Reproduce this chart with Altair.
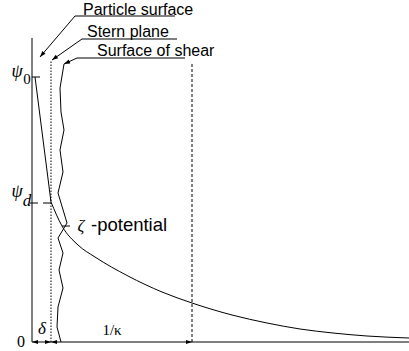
import math
import altair as alt
import pandas as pd

# Potential profile: straight drop across the Stern layer, then diffuse decay
stern_x = [3, 19]
stern_y = [265, 140]
diffuse_x = [19, 30, 46, 63, 96, 130, 160, 200, 235, 268, 301, 335, 377]
diffuse_y = [140, 116, 97, 85, 66, 50, 39, 27, 19, 13, 9, 6, 4]

# Irregular surface of shear
shear_x = [32, 28, 29, 32, 28, 31, 26, 35, 26, 31, 27, 31, 26, 25, 29]
shear_y = [278, 254, 230, 212, 192, 170, 149, 119, 104, 89, 72, 54, 35, 15, 0]

# Characteristic levels and planes
X_MAX, Y_MAX = 377, 304
STERN_PLANE = 19
DEBYE_EDGE = 160
PSI_0 = 265
PSI_D = 139
ZETA = 116

# Callout labels with their leader lines
callout_text = ["Particle surface", "Stern plane", "Surface of shear"]
callout_x = [51, 55, 65]
callout_y = [327, 305, 286]
elbow_x = [43, 50, 45]
elbow_y = [326, 303, 284]
underline_end = [143, 145, 153]
tip_x = [8, 20, 32]
tip_y = [285, 282, 278]

W, H = X_MAX, Y_MAX
xs = alt.Scale(domain=[0, X_MAX], nice=False, zero=False)
ys = alt.Scale(domain=[0, Y_MAX], nice=False, zero=False)


def enc_xy(x="x", y="y"):
    return dict(x=alt.X(f"{x}:Q", scale=xs, axis=None),
                y=alt.Y(f"{y}:Q", scale=ys, axis=None))


# Straight segments
solid = [
    (0, 0, 0, Y_MAX),            # potential axis
    (0, 0, X_MAX, 0),            # distance axis
    (0, PSI_0, 8, PSI_0),        # psi_0 tick
    (30, ZETA, 38, ZETA),        # zeta tick
]
for i in range(3):
    solid.append((elbow_x[i], elbow_y[i], underline_end[i], elbow_y[i]))
    solid.append((elbow_x[i], elbow_y[i], tip_x[i], tip_y[i]))
solid_df = pd.DataFrame(solid, columns=["x", "y", "x2", "y2"])

solid_layer = alt.Chart(solid_df).mark_rule(color="black", strokeWidth=1).encode(
    **enc_xy(), x2="x2:Q", y2="y2:Q")
psid_layer = alt.Chart(pd.DataFrame([(-2, PSI_D, 23, PSI_D)], columns=["x", "y", "x2", "y2"])).mark_rule(
    color="black", strokeWidth=1, strokeDash=[8, 5]).encode(**enc_xy(), x2="x2:Q", y2="y2:Q")
stern_plane_layer = alt.Chart(pd.DataFrame([(STERN_PLANE, 0, STERN_PLANE, 282)],
                                           columns=["x", "y", "x2", "y2"])).mark_rule(
    color="black", strokeWidth=1, strokeDash=[1.5, 1.5]).encode(**enc_xy(), x2="x2:Q", y2="y2:Q")
debye_layer = alt.Chart(pd.DataFrame([(DEBYE_EDGE, 0, DEBYE_EDGE, 280)],
                                     columns=["x", "y", "x2", "y2"])).mark_rule(
    color="black", strokeWidth=1, strokeDash=[3, 2]).encode(**enc_xy(), x2="x2:Q", y2="y2:Q")

# Potential curve
stern_line = alt.Chart(pd.DataFrame({"x": stern_x, "y": stern_y})).mark_line(
    color="black", strokeWidth=1).encode(**enc_xy())
diffuse_line = alt.Chart(pd.DataFrame({"x": diffuse_x, "y": diffuse_y})).mark_line(
    color="black", strokeWidth=1, interpolate="monotone").encode(**enc_xy())
shear_line = alt.Chart(pd.DataFrame({"x": shear_x, "y": shear_y, "o": range(len(shear_x))})).mark_line(
    color="black", strokeWidth=1).encode(**enc_xy(), order="o:O")

# Arrow heads (tip at the data point, rotated along the line direction)
heads = []
for i in range(3):
    dx, dy = tip_x[i] - elbow_x[i], tip_y[i] - elbow_y[i]
    heads.append((tip_x[i], tip_y[i], math.degrees(math.atan2(dx, dy)) % 360))
heads += [(0, 0, 270), (STERN_PLANE, 0, 90), (STERN_PLANE, 0, 270), (DEBYE_EDGE, 0, 90)]
heads_df = pd.DataFrame(heads, columns=["x", "y", "angle"])
head_layer = alt.Chart(heads_df).mark_point(
    shape="M0,0L-0.7,2L0.7,2Z", filled=True, color="black", opacity=1, size=36, strokeWidth=0
).encode(**enc_xy(), angle=alt.Angle("angle:Q", scale=None))


def label(x, y, text, font, size, italic=False, align="center", baseline="middle"):
    return alt.Chart(pd.DataFrame({"x": [x], "y": [y], "t": [text]})).mark_text(
        font=font, fontSize=size, fontStyle="italic" if italic else "normal",
        align=align, baseline=baseline, color="black").encode(**enc_xy(), text="t:N")


SERIF = "Liberation Serif"
SANS = "Liberation Sans"
texts = [
    label(-15, 270, "ψ", SERIF, 18, italic=True),
    label(-5, 263, "0", SERIF, 15),
    label(-15, 150, "ψ", SERIF, 18, italic=True),
    label(-5, 141, "d", SERIF, 17, italic=True),
    label(-11, 0, "0", SERIF, 16),
    label(10, 13, "δ", SERIF, 17, italic=True),
    label(80, 12, "1/κ", SERIF, 15),
    label(49, ZETA, "ζ", SERIF, 17, italic=True),
    label(59, 111, "-potential", SANS, 18.5, align="left", baseline="alphabetic"),
]
for i in range(3):
    texts.append(label(callout_x[i], callout_y[i], callout_text[i], SANS, 16,
                       align="left", baseline="alphabetic"))

chart = alt.layer(
    solid_layer, psid_layer, stern_plane_layer, debye_layer,
    stern_line, diffuse_line, shear_line, head_layer, *texts
).properties(
    width=W, height=H,
    padding={"left": 32, "top": 38, "right": 0, "bottom": 9},
    autosize=alt.AutoSizeParams(type="none"),
    background="white",
).configure_view(stroke=None)

chart.save("out.html", embed_options={"renderer": "svg", "actions": False})
